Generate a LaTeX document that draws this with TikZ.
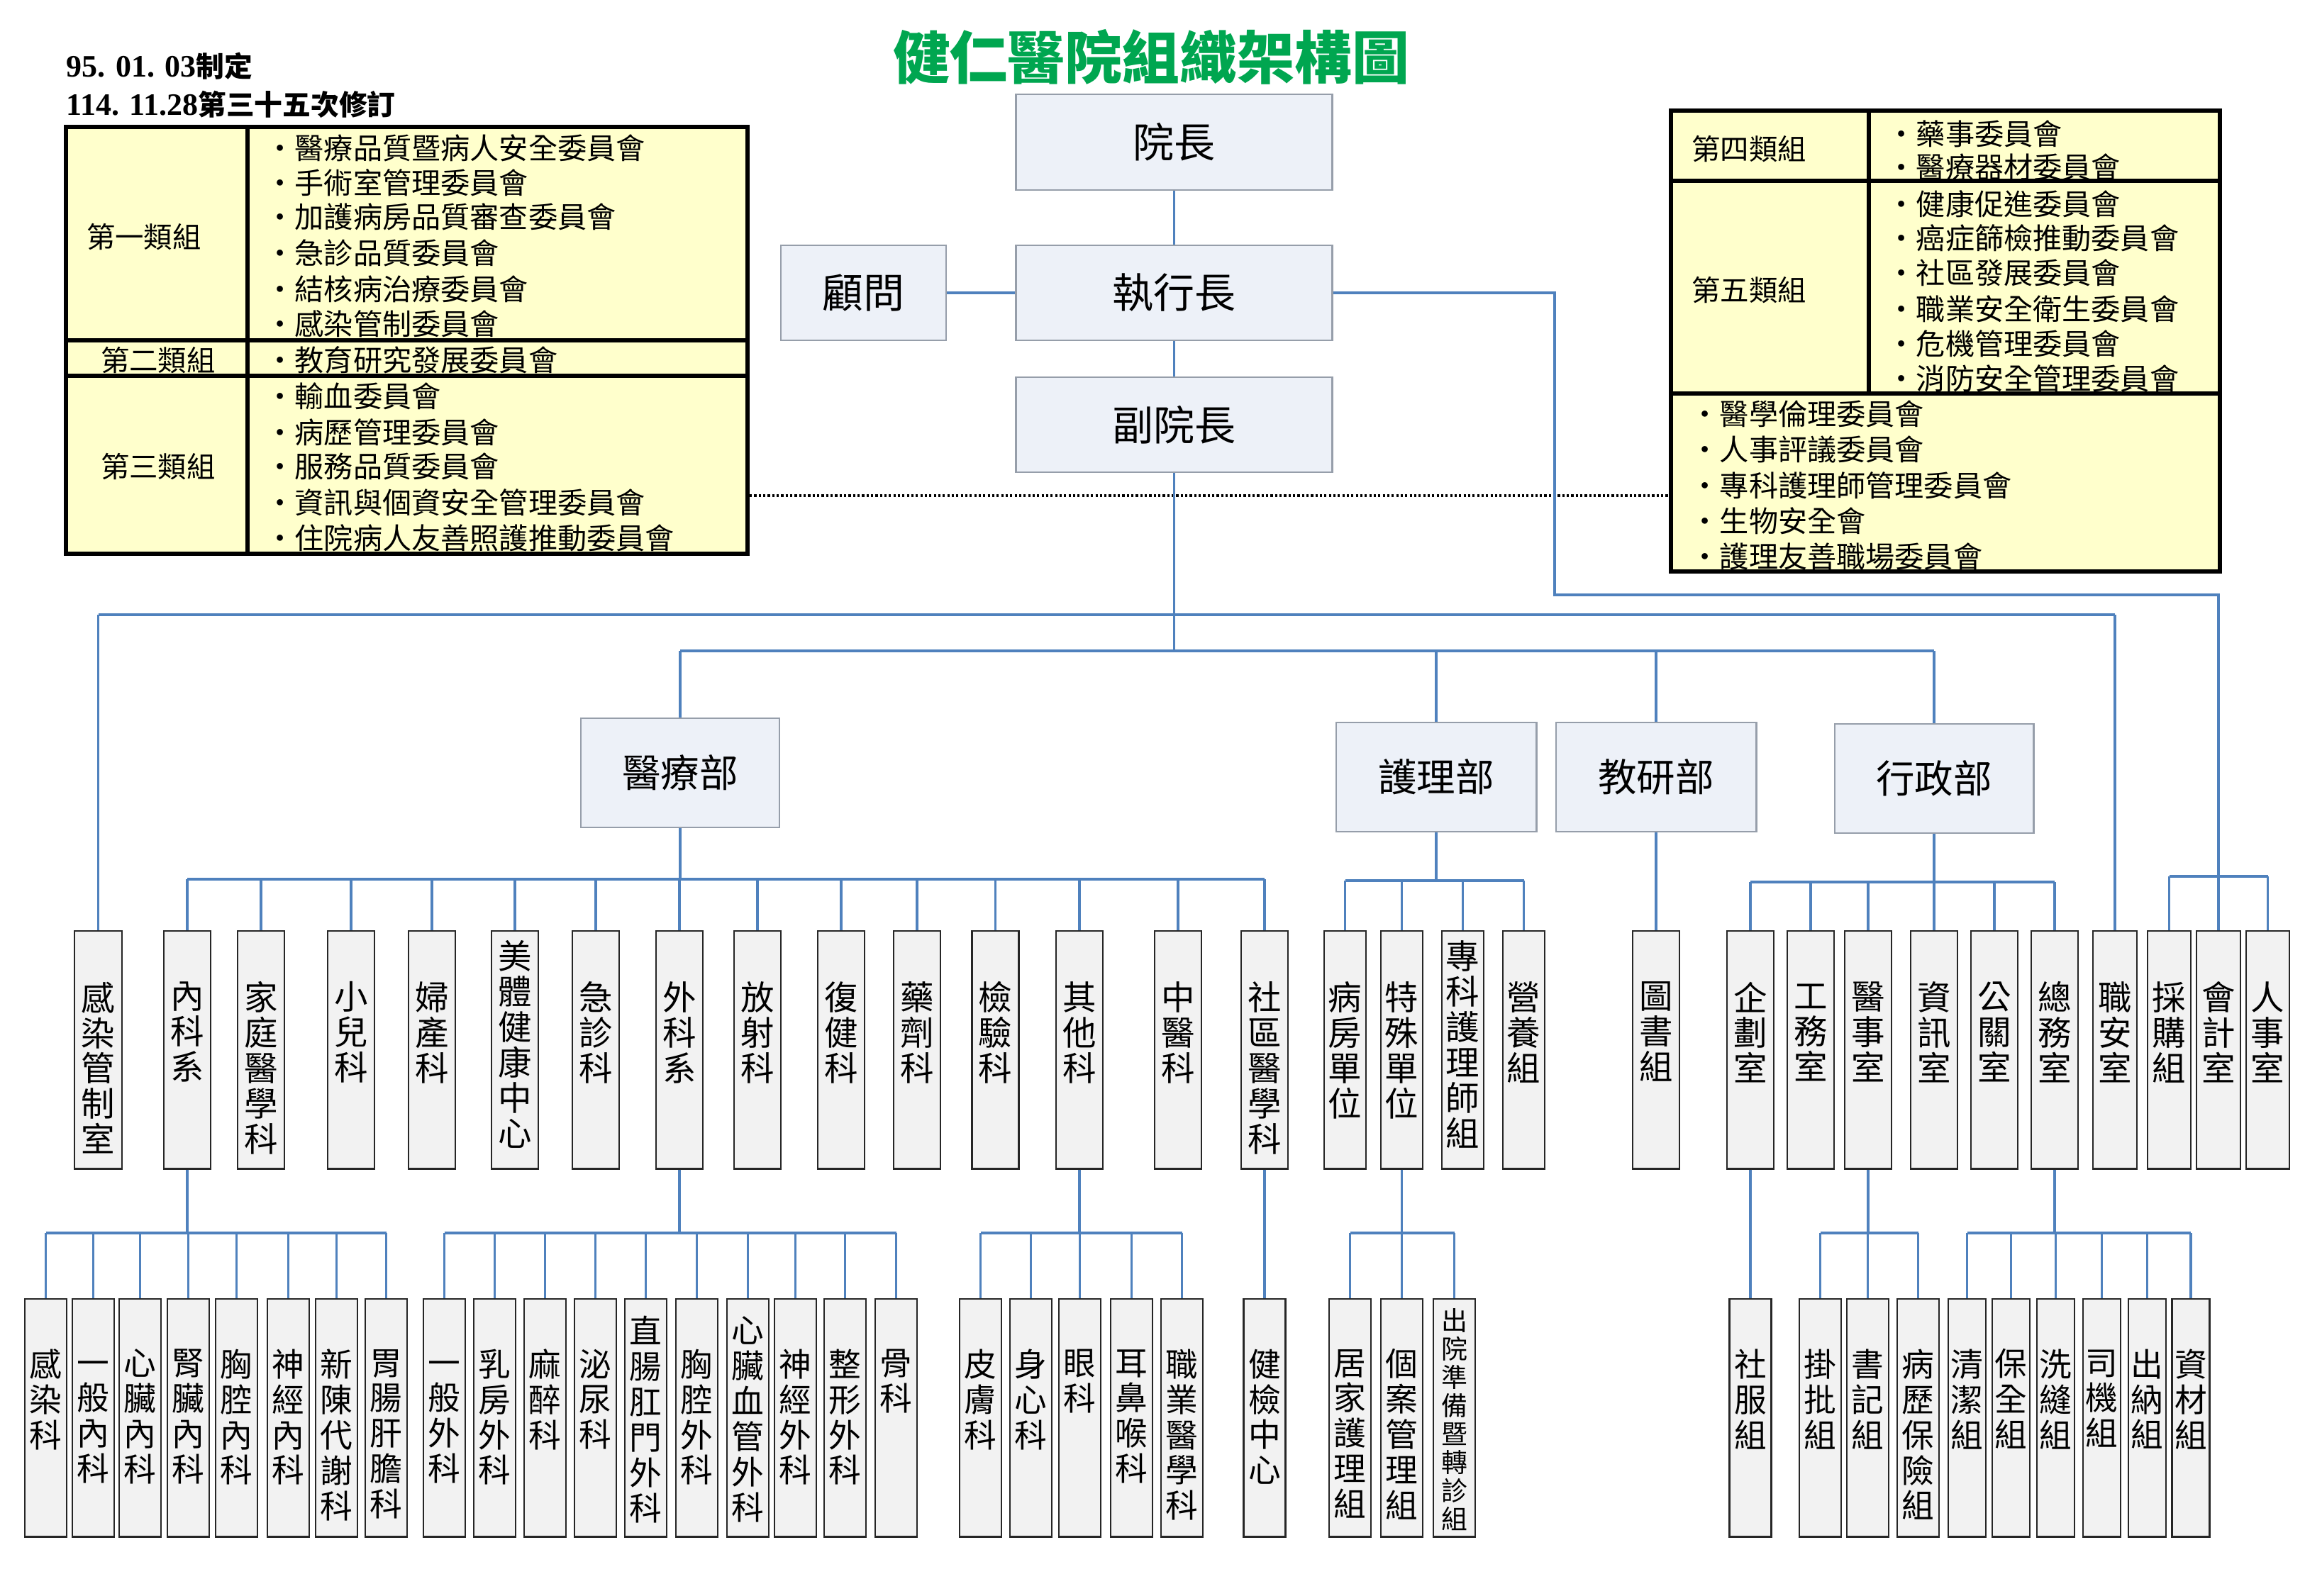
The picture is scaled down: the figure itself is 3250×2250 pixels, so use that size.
\documentclass[tikz,border=0pt]{standalone}
\usepackage{fontspec}
\setmainfont{Liberation Serif}
\newfontfamily\cjk{Noto Sans CJK TC}
\usetikzlibrary{calc}
\definecolor{lnblue}{RGB}{79,129,189}
\definecolor{topfill}{RGB}{237,241,248}
\definecolor{topdraw}{RGB}{150,158,170}
\definecolor{boxfill}{RGB}{242,242,242}
\definecolor{yel}{RGB}{255,255,204}
\definecolor{ttlgreen}{RGB}{0,166,80}
\tikzset{
 conn/.style={draw=lnblue, line width=1.1pt},
 topbox/.style={draw=topdraw, fill=topfill, line width=0.8pt, inner sep=0pt, font=\cjk\fontsize{16.5}{18}\selectfont},
 deptbox/.style={topbox, font=\cjk\fontsize{15.5}{17}\selectfont},
 colbox/.style={draw=black!85, fill=boxfill, line width=0.8pt, inner sep=0pt},
 vt3/.style={inner sep=0pt, align=center, font=\cjk\fontsize{13.5}{14.2}\selectfont},
 vt4/.style={inner sep=0pt, align=center, font=\cjk\fontsize{13}{14.2}\selectfont},
 ctxt/.style={inner sep=0pt, anchor=west, font=\cjk\fontsize{11.7}{13}\selectfont},
 clab/.style={inner sep=0pt, font=\cjk\fontsize{11.5}{13}\selectfont},
 tbl/.style={draw=black, fill=yel, line width=1.6pt, inner sep=0pt},
 tblline/.style={draw=black, line width=1.6pt},
 dotline/.style={draw=black, line width=1.3pt, dash pattern=on 0.9pt off 0.9pt},
 datetxt/.style={inner sep=0pt, anchor=west, font=\bfseries\fontsize{12.5}{14}\selectfont},
}
\newcommand{\dcjk}[1]{{\cjk\fontsize{11.3}{14}\selectfont #1}}
\newcommand{\Lthr}[4]{\node[colbox, minimum width=#3*0.01cm, minimum height=3.35cm] (#1) at (#2,1480.5) {};
  \node[vt3, anchor=north] (#1t) at (#2,1384) {\vphantom{國}#4};}
\newcommand{\LthrC}[4]{\node[colbox, minimum width=#3*0.01cm, minimum height=3.35cm] (#1) at (#2,1480.5) {};
  \node[vt3] (#1t) at (#2,1473) {#4};}
\newcommand{\Lfou}[4]{\node[colbox, minimum width=#3*0.01cm, minimum height=3.35cm] (#1) at (#2,1999.5) {};
  \node[vt4, anchor=north] (#1t) at (#2,1902) {\vphantom{國}#4};}
\newcommand{\LfouC}[5]{\node[colbox, minimum width=#3*0.01cm, minimum height=3.35cm] (#1) at (#2,1999.5) {};
  \node[vt4, #5] (#1t) at (#2,2002) {#4};}
\begin{document}
\begin{tikzpicture}[x=0.01cm, y=-0.01cm]
\useasboundingbox (0,0) rectangle (3250,2250);

% title and dates
\node[font=\cjk\bfseries\fontsize{23}{26}\selectfont, text=ttlgreen, inner sep=0pt] (title) at (1623,80) {健仁醫院組織架構圖};
\node[datetxt] (date1) at (93,93) {95. 01. 03\dcjk{制定}};
\node[datetxt] (date2) at (93,147) {114. 11.28\dcjk{第三十五次修訂}};

% left committee table
\node[tbl, minimum width=9.61cm, minimum height=6.02cm] (tblL) at (573.5,480) {};
\draw[tblline] (349,179) -- (349,781);
\draw[tblline] (93,480) -- (1054,480);
\draw[tblline] (93,530) -- (1054,530);
\node[clab] (g1) at (203,334) {第一類組};
\node[clab] (g2) at (223,508) {第二類組};
\node[clab] (g3) at (223,658) {第三類組};
\node[ctxt] (l1) at (374,209) {・醫療品質暨病人安全委員會};
\node[ctxt] (l2) at (374,258) {・手術室管理委員會};
\node[ctxt] (l3) at (374,306) {・加護病房品質審查委員會};
\node[ctxt] (l4) at (374,357) {・急診品質委員會};
\node[ctxt] (l5) at (374,408) {・結核病治療委員會};
\node[ctxt] (l6) at (374,457) {・感染管制委員會};
\node[ctxt] (l7) at (374,508) {・教育研究發展委員會};
\node[ctxt] (l8) at (374,559) {・輸血委員會};
\node[ctxt] (l9) at (374,610) {・病歷管理委員會};
\node[ctxt] (l10) at (374,658) {・服務品質委員會};
\node[ctxt] (l11) at (374,709) {・資訊與個資安全管理委員會};
\node[ctxt] (l12) at (374,759) {・住院病人友善照護推動委員會};

% right committee table
\node[tbl, minimum width=7.74cm, minimum height=6.5cm] (tblR) at (2743,481) {};
\draw[tblline] (2635,156) -- (2635,555);
\draw[tblline] (2356,255) -- (3130,255);
\draw[tblline] (2356,555) -- (3130,555);
\node[clab] (g4) at (2466,210) {第四類組};
\node[clab] (g5) at (2466,409) {第五類組};
\node[ctxt] (r1) at (2660,189) {・藥事委員會};
\node[ctxt] (r2) at (2660,236) {・醫療器材委員會};
\node[ctxt] (r3) at (2660,288) {・健康促進委員會};
\node[ctxt] (r4) at (2660,336) {・癌症篩檢推動委員會};
\node[ctxt] (r5) at (2660,385) {・社區發展委員會};
\node[ctxt] (r6) at (2660,436) {・職業安全衛生委員會};
\node[ctxt] (r7) at (2660,485) {・危機管理委員會};
\node[ctxt] (r8) at (2660,534) {・消防安全管理委員會};
\node[ctxt] (r9) at (2383,584) {・醫學倫理委員會};
\node[ctxt] (r10) at (2383,634) {・人事評議委員會};
\node[ctxt] (r11) at (2383,685) {・專科護理師管理委員會};
\node[ctxt] (r12) at (2383,735) {・生物安全會};
\node[ctxt] (r13) at (2383,785) {・護理友善職場委員會};

% top boxes
\node[topbox, minimum width=4.45cm, minimum height=1.35cm] (pres) at (1655.5,200.5) {院長};
\node[topbox, minimum width=4.45cm, minimum height=1.34cm] (ceo) at (1655.5,413) {執行長};
\node[topbox, minimum width=2.33cm, minimum height=1.34cm] (adv) at (1217.5,413) {顧問};
\node[topbox, minimum width=4.45cm, minimum height=1.34cm] (vp) at (1655.5,599) {副院長};

% departments
\node[deptbox, minimum width=2.80cm, minimum height=1.54cm] (dMed) at (959,1090) {醫療部};
\node[deptbox, minimum width=2.82cm, minimum height=1.54cm] (dNur) at (2025,1096) {護理部};
\node[deptbox, minimum width=2.82cm, minimum height=1.54cm] (dEdu) at (2335,1096) {教研部};
\node[deptbox, minimum width=2.80cm, minimum height=1.54cm] (dAdm) at (2727,1098) {行政部};

% level 3
\Lthr{IC}{138.5}{67}{感\\染\\管\\制\\室}
\Lthr{IM}{264}{66}{內\\科\\系}
\Lthr{FMD}{368}{66}{家\\庭\\醫\\學\\科}
\Lthr{PED}{495}{66}{小\\兒\\科}
\Lthr{OBG}{609}{66}{婦\\產\\科}
\LthrC{BEA}{726}{66}{美\\體\\健\\康\\中\\心}
\Lthr{ER}{840}{66}{急\\診\\科}
\Lthr{SUR}{958}{66}{外\\科\\系}
\Lthr{RAD}{1068}{66}{放\\射\\科}
\Lthr{REH}{1186}{66}{復\\健\\科}
\Lthr{PHA}{1293}{66}{藥\\劑\\科}
\Lthr{LAB}{1403.5}{66}{檢\\驗\\科}
\Lthr{OTH}{1522}{66}{其\\他\\科}
\Lthr{TCM}{1661}{66}{中\\醫\\科}
\Lthr{COM}{1783}{66}{社\\區\\醫\\學\\科}
\Lthr{WARD}{1896.5}{59}{病\\房\\單\\位}
\Lthr{SPU}{1976.5}{59}{特\\殊\\單\\位}
\LthrC{NP}{2062.5}{59}{專\\科\\護\\理\\師\\組}
\Lthr{NUT}{2148.5}{59}{營\\養\\組}
\Lthr{LIB}{2335}{66}{圖\\書\\組}
\Lthr{PLN}{2468}{66}{企\\劃\\室}
\Lthr{ENG}{2553}{66}{工\\務\\室}
\Lthr{MRO}{2634}{66}{醫\\事\\室}
\Lthr{INF}{2727}{66}{資\\訊\\室}
\Lthr{PR}{2812}{66}{公\\關\\室}
\Lthr{GA}{2897}{66}{總\\務\\室}
\Lthr{OS}{2982}{62}{職\\安\\室}
\Lthr{PUR}{3058.5}{61}{採\\購\\組}
\Lthr{ACC}{3128}{62}{會\\計\\室}
\Lthr{HR}{3197.5}{61}{人\\事\\室}

% level 4
\Lfou{a1}{64.5}{59}{感\\染\\科}
\Lfou{a2}{131.5}{59}{一\\般\\內\\科}
\Lfou{a3}{197.5}{59}{心\\臟\\內\\科}
\Lfou{a4}{265.5}{59}{腎\\臟\\內\\科}
\Lfou{a5}{333.5}{59}{胸\\腔\\內\\科}
\Lfou{a6}{406.5}{59}{神\\經\\內\\科}
\Lfou{a7}{474.5}{59}{新\\陳\\代\\謝\\科}
\Lfou{a8}{544.5}{59}{胃\\腸\\肝\\膽\\科}
\Lfou{b1}{626.5}{59}{一\\般\\外\\科}
\Lfou{b2}{697.5}{59}{乳\\房\\外\\科}
\Lfou{b3}{768.5}{59}{麻\\醉\\科}
\Lfou{b4}{839.5}{59}{泌\\尿\\科}
\LfouC{b5}{910.5}{59}{直\\腸\\肛\\門\\外\\科}{}
\Lfou{b6}{982.5}{59}{胸\\腔\\外\\科}
\LfouC{b7}{1054.5}{59}{心\\臟\\血\\管\\外\\科}{}
\Lfou{b8}{1121.5}{59}{神\\經\\外\\科}
\Lfou{b9}{1191.5}{59}{整\\形\\外\\科}
\Lfou{b10}{1263.5}{59}{骨\\科}
\Lfou{c1}{1382.5}{59}{皮\\膚\\科}
\Lfou{c2}{1453.5}{59}{身\\心\\科}
\Lfou{c3}{1522.5}{59}{眼\\科}
\Lfou{c4}{1595.5}{59}{耳\\鼻\\喉\\科}
\Lfou{c5}{1666.5}{59}{職\\業\\醫\\學\\科}
\Lfou{HC}{1783}{59}{健\\檢\\中\\心}
\Lfou{d1}{1903.5}{59}{居\\家\\護\\理\\組}
\Lfou{d2}{1976.5}{59}{個\\案\\管\\理\\組}
\LfouC{d3}{2050.5}{59}{出\\院\\準\\備\\暨\\轉\\診\\組}{font=\cjk\fontsize{10.5}{11.4}\selectfont}
\Lfou{SW}{2468}{59}{社\\服\\組}
\Lfou{e1}{2566.5}{59}{掛\\批\\組}
\Lfou{e2}{2633.5}{59}{書\\記\\組}
\Lfou{e3}{2704.5}{59}{病\\歷\\保\\險\\組}
\Lfou{f1}{2773.5}{53}{清\\潔\\組}
\Lfou{f2}{2835.5}{53}{保\\全\\組}
\Lfou{f3}{2898.5}{53}{洗\\縫\\組}
\Lfou{f4}{2963.5}{53}{司\\機\\組}
\Lfou{f5}{3027.5}{53}{出\\納\\組}
\Lfou{f6}{3089}{53}{資\\材\\組}

% connectors: top
\coordinate (dotY) at (0,699);
\draw[dotline] (tblL.east |- dotY) -- (tblR.west |- dotY);
\coordinate (busTop) at (0,867);
\coordinate (busDept) at (0,918);
\draw[conn] (pres.south) -- (ceo.north);
\draw[conn] (adv.east) -- (ceo.west);
\draw[conn] (ceo.south) -- (vp.north);
\draw[conn] (vp.south) -- (vp.south |- busDept);
\draw[conn] (IC.north |- busTop) -- (OS.north |- busTop);
\draw[conn] (IC.north |- busTop) -- (IC.north);
\draw[conn] (OS.north |- busTop) -- (OS.north);
\draw[conn] (dMed.north |- busDept) -- (dAdm.north |- busDept);
\foreach \d in {dMed,dNur,dEdu,dAdm} \draw[conn] (\d.north |- busDept) -- (\d.north);

% CEO line to accounting group
\coordinate (ceoX) at (2192,0);
\coordinate (ceoY) at (0,839);
\coordinate (busAcc) at (0,1236);
\draw[conn] (ceo.east) -- (ceo.east -| ceoX) -- (ceoX |- ceoY) -- (ACC.north |- ceoY) -- (ACC.north |- busAcc);
\draw[conn] (PUR.north |- busAcc) -- (HR.north |- busAcc);
\foreach \n in {PUR,ACC,HR} \draw[conn] (\n.north |- busAcc) -- (\n.north);

% medical
\coordinate (busMed) at (0,1240);
\draw[conn] (dMed.south) -- (dMed.south |- busMed);
\draw[conn] (IM.north |- busMed) -- (COM.north |- busMed);
\foreach \n in {IM,FMD,PED,OBG,BEA,ER,SUR,RAD,REH,PHA,LAB,OTH,TCM,COM} \draw[conn] (\n.north |- busMed) -- (\n.north);
% nursing
\coordinate (busNur) at (0,1242);
\draw[conn] (dNur.south) -- (dNur.south |- busNur);
\draw[conn] (WARD.north |- busNur) -- (NUT.north |- busNur);
\foreach \n in {WARD,SPU,NP,NUT} \draw[conn] (\n.north |- busNur) -- (\n.north);
% education
\draw[conn] (dEdu.south) -- (LIB.north);
% admin
\coordinate (busAdm) at (0,1244);
\draw[conn] (dAdm.south) -- (dAdm.south |- busAdm);
\draw[conn] (PLN.north |- busAdm) -- (GA.north |- busAdm);
\foreach \n in {PLN,ENG,MRO,INF,PR,GA} \draw[conn] (\n.north |- busAdm) -- (\n.north);

% level 4 connectors
\coordinate (busB) at (0,1739);
\draw[conn] (IM.south) -- (IM.south |- busB);
\draw[conn] (a1.north |- busB) -- (a8.north |- busB);
\foreach \n in {a1,a2,a3,a4,a5,a6,a7,a8} \draw[conn] (\n.north |- busB) -- (\n.north);
\draw[conn] (SUR.south) -- (SUR.south |- busB);
\draw[conn] (b1.north |- busB) -- (b10.north |- busB);
\foreach \n in {b1,b2,b3,b4,b5,b6,b7,b8,b9,b10} \draw[conn] (\n.north |- busB) -- (\n.north);
\draw[conn] (OTH.south) -- (OTH.south |- busB);
\draw[conn] (c1.north |- busB) -- (c5.north |- busB);
\foreach \n in {c1,c2,c3,c4,c5} \draw[conn] (\n.north |- busB) -- (\n.north);
\draw[conn] (COM.south) -- (HC.north);
\draw[conn] (SPU.south) -- (SPU.south |- busB);
\draw[conn] (d1.north |- busB) -- (d3.north |- busB);
\foreach \n in {d1,d2,d3} \draw[conn] (\n.north |- busB) -- (\n.north);
\draw[conn] (PLN.south) -- (SW.north);
\draw[conn] (MRO.south) -- (MRO.south |- busB);
\draw[conn] (e1.north |- busB) -- (e3.north |- busB);
\foreach \n in {e1,e2,e3} \draw[conn] (\n.north |- busB) -- (\n.north);
\draw[conn] (GA.south) -- (GA.south |- busB);
\draw[conn] (f1.north |- busB) -- (f6.north |- busB);
\foreach \n in {f1,f2,f3,f4,f5,f6} \draw[conn] (\n.north |- busB) -- (\n.north);
\end{tikzpicture}
\end{document}
